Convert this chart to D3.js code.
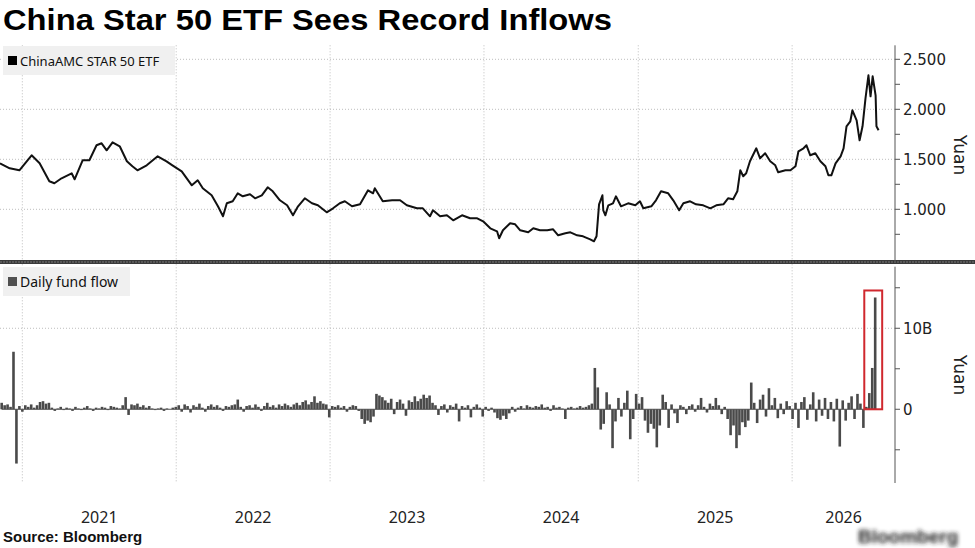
<!DOCTYPE html>
<html><head><meta charset="utf-8">
<script src="https://cdn.jsdelivr.net/npm/d3@7"></script>
<style>
body{margin:0;background:#fff;}
svg{display:block;}
</style></head><body>
<svg id="c" width="975" height="548"></svg>
<script>
// ---------- DATA ----------
const priceDates = [
"2020-11-09","2020-12-02","2020-12-25","2021-01-23","2021-02-11","2021-03-06","2021-03-18","2021-04-04","2021-04-28","2021-05-05",
"2021-05-24","2021-06-09","2021-06-26","2021-07-08","2021-07-20","2021-08-03","2021-08-20","2021-09-06","2021-09-19","2021-10-01",
"2021-10-23","2021-11-18","2021-12-09","2021-12-23","2022-01-14","2022-02-07","2022-02-21","2022-03-05","2022-03-26","2022-04-10",
"2022-04-22","2022-05-01","2022-05-15","2022-05-27","2022-06-08","2022-06-25","2022-07-07","2022-07-23","2022-08-06","2022-08-18",
"2022-09-04","2022-09-21","2022-10-05","2022-10-17","2022-11-02","2022-11-19","2022-12-03","2022-12-24","2023-01-08","2023-01-24",
"2023-02-05","2023-02-22","2023-03-13","2023-04-01","2023-04-13","2023-04-17","2023-05-06","2023-05-28","2023-06-16","2023-07-02",
"2023-07-26","2023-08-09","2023-08-26","2023-09-02","2023-09-19","2023-10-05","2023-10-20","2023-11-10","2023-11-29","2023-12-16",
"2023-12-30","2024-01-16","2024-02-01","2024-02-06","2024-02-15","2024-03-03","2024-03-15","2024-03-27","2024-04-15","2024-04-27",
"2024-05-13","2024-05-30","2024-06-13","2024-06-25","2024-07-12","2024-07-24","2024-08-09","2024-08-23","2024-09-09","2024-09-18",
"2024-09-24","2024-09-30","2024-10-08","2024-10-10","2024-10-15","2024-10-22","2024-11-02","2024-11-09","2024-11-21","2024-12-08",
"2024-12-25","2025-01-05","2025-01-13","2025-02-01","2025-02-12","2025-02-24","2025-03-13","2025-03-25","2025-04-08","2025-04-18",
"2025-05-04","2025-05-18","2025-06-04","2025-06-21","2025-07-05","2025-07-22","2025-08-02","2025-08-14","2025-08-24","2025-08-31",
"2025-09-07","2025-09-14","2025-09-23","2025-10-08","2025-10-17","2025-10-29","2025-11-10","2025-11-22","2025-11-29","2025-12-16",
"2025-12-28","2026-01-09","2026-01-16","2026-01-28","2026-02-04","2026-02-13","2026-02-25","2026-03-09","2026-03-21","2026-03-28",
"2026-04-04","2026-04-14","2026-04-26","2026-05-03","2026-05-10","2026-05-19","2026-05-24","2026-06-03","2026-06-10","2026-06-17",
"2026-06-24","2026-07-01","2026-07-06","2026-07-11","2026-07-18","2026-07-20","2026-07-25"];
const priceValues = [
1.46,1.41,1.39,1.54,1.46,1.28,1.26,1.31,1.36,1.30,
1.49,1.49,1.64,1.66,1.59,1.67,1.63,1.48,1.43,1.39,
1.44,1.53,1.48,1.44,1.38,1.24,1.29,1.21,1.14,1.03,
0.93,1.06,1.08,1.16,1.13,1.15,1.11,1.14,1.22,1.18,
1.09,1.04,0.94,1.03,1.11,1.06,1.04,0.97,1.01,1.06,
1.08,1.03,1.05,1.19,1.16,1.21,1.08,1.09,1.09,1.04,
1.01,1.01,0.93,0.99,0.93,0.94,0.89,0.94,0.91,0.91,
0.88,0.81,0.78,0.71,0.79,0.86,0.85,0.79,0.77,0.81,
0.79,0.79,0.80,0.74,0.76,0.77,0.74,0.73,0.70,0.68,
0.73,1.05,1.14,0.99,0.94,1.04,1.06,1.13,1.03,1.06,
1.04,1.08,1.01,1.03,1.09,1.18,1.16,1.09,0.99,1.06,
1.08,1.05,1.04,1.01,1.04,1.05,1.11,1.10,1.18,1.39,
1.33,1.36,1.48,1.61,1.51,1.56,1.48,1.44,1.37,1.39,
1.39,1.43,1.58,1.61,1.64,1.54,1.56,1.48,1.43,1.34,
1.34,1.46,1.53,1.61,1.83,1.88,1.99,1.89,1.69,1.83,
2.11,2.34,2.13,2.33,2.14,1.83,1.79];

// weekly fund flow, billion yuan, weeks starting flowStart
const flowStart = "2020-11-13";
const flowValues = [
0.8,0.5,0.6,0.3,7.1,-6.7,0.4,-0.3,0.5,0.3,
0.6,0.2,0.5,0.9,1.0,0.7,0.8,0.2,-0.2,0.1,
0.3,-0.1,0.2,0.1,-0.2,0.3,0.1,-0.1,0.2,0.4,
0.1,-0.2,0.2,0.1,0.3,0.2,-0.1,0.4,0.3,0.2,
0.1,0.5,1.5,-0.7,0.6,0.5,0.7,0.3,0.5,0.2,
0.4,0.1,-0.1,0.1,0.2,-0.2,0.1,0.0,0.2,0.3,
0.5,-0.3,0.6,0.4,-0.4,0.5,0.3,0.7,0.2,-0.3,
0.4,0.6,0.3,0.5,0.2,-0.2,0.4,0.3,0.5,0.6,
1.2,0.3,-0.3,0.4,0.5,0.2,0.6,0.3,-0.2,0.4,
0.8,0.3,0.5,0.2,0.6,0.4,0.7,0.5,0.3,0.6,
0.8,0.5,0.9,1.1,0.6,0.9,1.6,0.8,1.0,0.7,
0.6,-1.0,0.4,0.3,0.5,0.2,0.4,-0.3,0.3,0.5,
0.4,-0.2,-1.2,-1.8,-1.4,-1.6,-0.9,1.9,1.7,1.5,
1.1,0.8,1.3,-0.6,0.9,1.2,0.7,-0.8,1.1,0.9,
1.6,1.0,1.3,1.8,1.4,1.7,0.8,0.5,-0.7,0.4,
0.6,-0.4,0.5,0.3,0.7,-1.5,0.4,0.2,0.5,-1.0,
0.3,0.6,0.2,-0.9,0.3,-0.2,0.2,-0.4,-1.1,-1.3,
-0.8,-1.2,-0.5,0.3,-0.3,0.2,0.4,0.1,0.5,0.3,
0.2,0.4,0.3,0.6,0.2,0.3,-0.2,0.5,0.2,0.3,
0.1,-1.2,0.2,0.3,0.1,0.2,0.4,0.2,0.3,0.5,
0.7,5.1,2.7,-2.5,-1.8,2.1,0.6,-4.8,-1.5,1.4,
-0.9,0.8,2.3,-3.7,-1.2,1.9,0.7,1.5,-1.4,-2.9,
-1.8,-2.4,-4.7,-2.0,1.8,0.9,-2.3,0.6,-0.5,-1.7,
0.5,0.3,-0.6,0.4,0.6,-0.3,0.5,1.4,0.3,-0.4,
0.7,0.4,1.4,0.5,-0.6,0.3,-1.2,-3.2,-2.0,-4.8,
-3.2,-1.6,-2.2,-1.4,3.3,0.8,-1.7,1.2,1.8,-0.9,
2.6,0.5,1.4,-1.1,0.7,-0.6,1.0,0.4,-1.2,0.8,
-2.3,0.9,1.5,-1.3,0.6,2.1,-1.5,1.2,-0.8,1.4,
-1.2,0.9,-1.5,1.3,-4.6,1.1,-1.4,0.8,1.6,-1.2,
1.9,0.7,-2.3,0.3,2.0,5.1,13.8];

const yearLabels = ["2021","2022","2023","2024","2025","2026"];
const priceTicks = [1.0, 1.5, 2.0, 2.5];
const priceMinorTicks = [0.75, 1.25, 1.75, 2.25];
const flowTicks = [0, 10];
const flowMinorTicks = [-5, 5, 15];
const highlightWeeks = 3; // last weeks boxed in red

// ---------- CHART ----------
const parse = d3.timeParse("%Y-%m-%d");
const svg = d3.select("#c");
const FONT = "DejaVu Sans, sans-serif";
const plotRight = 895;

const x = d3.scaleTime()
  .domain([parse("2020-11-09"), parse("2026-09-02")])
  .range([0, plotRight]);

const yP = d3.scaleLinear().domain([0.47, 2.64]).range([262.3, 45.3]);
const yF = d3.scaleLinear().domain([-9.1, 17.6]).range([483, 266.7]);

const price = priceDates.map((d, i) => ({date: parse(d), v: priceValues[i]}));
const start = parse(flowStart);
const flows = flowValues.map((v, i) => ({date: d3.timeDay.offset(start, 7 * i), v}));

// Title
svg.append("text").attr("x", 3).attr("y", 30)
  .attr("font-family", "Liberation Sans, Arial, sans-serif").attr("font-weight", "bold")
  .attr("font-size", 29).attr("textLength", 609).attr("lengthAdjust", "spacingAndGlyphs")
  .attr("fill", "#000").text("China Star 50 ETF Sees Record Inflows");

// vertical year gridlines
const years = d3.timeYear.range(new Date(2021, 0, 1), new Date(2027, 0, 1));
const grid = svg.append("g");
grid.selectAll("line.vg").data(years).join("line")
  .attr("x1", d => x(d)).attr("x2", d => x(d))
  .attr("y1", yP.range()[1]).attr("y2", yF.range()[0])
  .attr("stroke", "#bdbdbd").attr("stroke-width", 1).attr("stroke-dasharray", "1,2");
// horizontal gridlines
grid.selectAll("line.hp").data(priceTicks).join("line")
  .attr("x1", 0).attr("x2", plotRight).attr("y1", d => yP(d)).attr("y2", d => yP(d))
  .attr("stroke", "#bdbdbd").attr("stroke-dasharray", "1,2");
grid.selectAll("line.hf").data(flowTicks.filter(d => d !== 0)).join("line")
  .attr("x1", 0).attr("x2", plotRight).attr("y1", d => yF(d)).attr("y2", d => yF(d))
  .attr("stroke", "#bdbdbd").attr("stroke-dasharray", "1,2");

// legends
function legend(y0, w, color, label, fs) {
  const g = svg.append("g");
  g.append("rect").attr("x", 3).attr("y", y0).attr("width", w).attr("height", 29).attr("fill", "#f0f0f0");
  g.append("rect").attr("x", 8).attr("y", y0 + 10).attr("width", 9).attr("height", 9).attr("fill", color);
  g.append("text").attr("x", 20).attr("y", y0 + 19.5).attr("font-family", "Noto Sans, sans-serif")
    .attr("font-size", fs).attr("fill", "#111").text(label);
}
legend(46, 172, "#000", "ChinaAMC STAR 50 ETF", 13);
legend(267, 127, "#505050", "Daily fund flow", 14);

// price line
svg.append("path").datum(price)
  .attr("d", d3.line().x(d => x(d.date)).y(d => yP(d.v)))
  .attr("fill", "none").attr("stroke", "#111").attr("stroke-width", 2).attr("stroke-linejoin", "round");

// flow bars
svg.append("line").attr("x1", x(flows[0].date)).attr("x2", x(flows[flows.length - 1].date))
  .attr("y1", yF(0)).attr("y2", yF(0)).attr("stroke", "#555").attr("stroke-width", 1);
svg.append("g").selectAll("rect").data(flows).join("rect")
  .attr("x", d => x(d.date) - 1.3).attr("width", 2.6)
  .attr("y", d => yF(Math.max(0, d.v))).attr("height", d => Math.abs(yF(d.v) - yF(0)))
  .attr("fill", "#4a4a4a");

// red highlight box around the final weeks
const hl = flows.slice(-highlightWeeks);
const hlMax = d3.max(hl, d => d.v);
svg.append("rect")
  .attr("x", x(hl[0].date) - 5).attr("y", yF(hlMax) - 7)
  .attr("width", x(hl[hl.length - 1].date) - x(hl[0].date) + 12)
  .attr("height", yF(0) - yF(hlMax) + 7)
  .attr("fill", "none").attr("stroke", "#d0282e").attr("stroke-width", 2);

// separator between panels
svg.append("rect").attr("x", 0).attr("y", 260).attr("width", 975).attr("height", 4).attr("fill", "#3a3a3a");
svg.append("line").attr("x1", 0).attr("x2", 975).attr("y1", 262).attr("y2", 262).attr("stroke", "#777").attr("stroke-width", 1).attr("stroke-dasharray", "2,1");

// right axes
function rightAxis(scale, ticks, minor, fmt, labelY) {
  const g = svg.append("g").attr("transform", `translate(${plotRight},0)`);
  const r = scale.range();
  g.append("line").attr("x1", 0).attr("x2", 0).attr("y1", r[0]).attr("y2", r[1]).attr("stroke", "#555");
  g.selectAll("line.t").data(ticks.concat(minor)).join("line")
    .attr("x1", 0).attr("x2", 5).attr("y1", d => scale(d)).attr("y2", d => scale(d)).attr("stroke", "#555");
  g.selectAll("text").data(ticks).join("text")
    .attr("x", 8).attr("y", d => scale(d)).attr("dy", "0.36em")
    .attr("font-family", FONT).attr("font-size", 15).attr("fill", "#222").text(fmt);
  svg.append("text").attr("transform", `translate(954,${labelY}) rotate(90)`)
    .attr("text-anchor", "middle").attr("font-family", FONT).attr("font-size", 17).attr("fill", "#222").text("Yuan");
}
rightAxis(yP, priceTicks, priceMinorTicks, d3.format(".3f"), 155);
rightAxis(yF, flowTicks, flowMinorTicks, d => d === 0 ? "0" : d + "B", 375);

// year labels centered in the visible part of each year
const [d0, d1] = x.domain();
svg.append("g").selectAll("text").data(yearLabels).join("text")
  .attr("x", yl => {
    const a = new Date(+yl, 0, 1), b = new Date(+yl + 1, 0, 1);
    const s = a < d0 ? d0 : a, e = b > d1 ? d1 : b;
    return (x(s) + x(e)) / 2;
  })
  .attr("y", 523).attr("text-anchor", "middle")
  .attr("font-family", "Noto Sans, sans-serif").attr("font-size", 16).attr("fill", "#222").text(d => d);

// source
svg.append("text").attr("x", 3).attr("y", 542)
  .attr("font-family", "Liberation Sans, Arial, sans-serif").attr("font-weight", "bold")
  .attr("font-size", 15).attr("fill", "#111").text("Source: Bloomberg");

// blurred logo
const defs = svg.append("defs");
defs.append("filter").attr("id", "blur").append("feGaussianBlur").attr("stdDeviation", 2.2);
svg.append("text").attr("x", 858).attr("y", 543).attr("filter", "url(#blur)")
  .attr("font-family", "Liberation Sans, Arial, sans-serif").attr("font-weight", "bold")
  .attr("font-size", 19).attr("fill", "#222").text("Bloomberg");
</script>
</body></html>
